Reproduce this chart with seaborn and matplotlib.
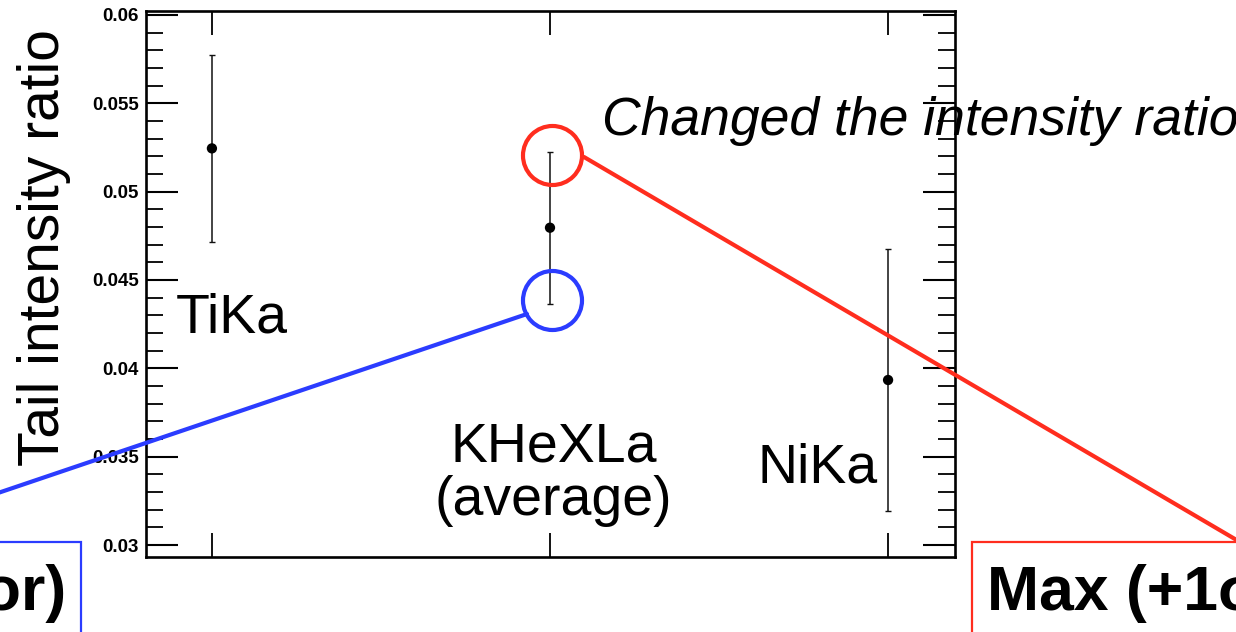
import matplotlib
matplotlib.use('AGG')
import matplotlib.pyplot as plt
from matplotlib.lines import Line2D
from matplotlib.patches import Rectangle
from matplotlib.ticker import MultipleLocator, FormatStrFormatter
import pandas as pd
import seaborn as sns

# data
lines = ['TiKa', 'KHeXLa', 'NiKa']
x_pos = [0, 1, 2]
ratio = [0.05245, 0.04796, 0.03934]
ratio_err = [0.00530, 0.00430, 0.00740]

# labels drawn under the points: (text, x, baseline y)
point_labels = [('TiKa', 0.06, 0.04200),
                ('KHeXLa', 1.01, 0.03472),
                ('(average)', 1.01, 0.03170),
                ('NiKa', 1.79, 0.03351)]

RED = '#ff2d1e'
BLUE = '#2b3cff'
W, H = 1236, 632

sns.set_theme(style='white')
plt.rcParams['font.family'] = ['Liberation Sans', 'DejaVu Sans']
plt.rcParams['text.color'] = 'black'
plt.rcParams['xtick.color'] = 'black'
plt.rcParams['ytick.color'] = 'black'
plt.rcParams['axes.labelcolor'] = 'black'

df = pd.DataFrame({'line': lines, 'x': x_pos, 'ratio': ratio, 'err': ratio_err})

fig = plt.figure(figsize=(W / 100, H / 100), dpi=100)
ax = fig.add_axes([146 / W, 1 - 557 / H, (955 - 146) / W, (557 - 11) / H])

ax.errorbar(df['x'], df['ratio'], yerr=df['err'], fmt='none', ecolor='#111111',
            elinewidth=1.1, capsize=2.5, capthick=1.0, zorder=2)
sns.scatterplot(data=df, x='x', y='ratio', ax=ax, color='black', s=55,
                edgecolor='none', zorder=3, legend=False)

ax.set_xlim(-0.195, 2.198)
ax.set_ylim(0.029321, 0.060226)
ax.set_xlabel('')
ax.set_ylabel('')

# ROOT-like frame and ticks
for sp in ax.spines.values():
    sp.set_linewidth(1.9)
    sp.set_color('black')
ax.set_xticks(x_pos)
ax.yaxis.set_major_locator(MultipleLocator(0.005))
ax.yaxis.set_minor_locator(MultipleLocator(0.001))
ax.yaxis.set_major_formatter(FormatStrFormatter('%g'))
ax.tick_params(axis='x', direction='in', length=17, width=1.3, top=True,
               bottom=True, labelbottom=False)
ax.tick_params(axis='y', which='major', direction='in', length=23, width=1.5,
               left=True, right=True, labelsize=13.5, pad=5)
ax.tick_params(axis='y', which='minor', direction='in', length=12, width=1.3,
               left=True, right=True)
for lab in ax.get_yticklabels():
    lab.set_fontweight('bold')

for txt, tx, ty in point_labels:
    ax.text(tx, ty, txt, ha='center', va='baseline', fontsize=40)

# highlight circles at the ends of the KHeXLa error bar
k = lines.index('KHeXLa')
ax.plot([x_pos[k] + 0.007], [ratio[k] + ratio_err[k] - 0.0002], marker='o', ms=42.5,
        mfc='none', mec=RED, mew=3.0, clip_on=False, zorder=4)
ax.plot([x_pos[k] + 0.007], [ratio[k] - ratio_err[k] + 0.0002], marker='o', ms=42.5,
        mfc='none', mec=BLUE, mew=3.0, clip_on=False, zorder=4)

# y title
fig.text(44 / W, 1 - 248 / H, 'Tail intensity ratio', rotation=90, ha='center',
         va='center', fontsize=41)

fig.text(602 / W, 1 - 135 / H, 'Changed the intensity ratio', ha='left',
         va='baseline', fontsize=38.5, style='italic')

# connector lines to the boxes
fig.add_artist(Line2D([584 / W, 1240 / W], [1 - 157 / H, 1 - 542 / H],
                      color=RED, lw=3.0, transform=fig.transFigure))
fig.add_artist(Line2D([527 / W, -5 / W], [1 - 314 / H, 1 - 494 / H],
                      color=BLUE, lw=3.0, transform=fig.transFigure))

# boxes
fig.add_artist(Rectangle((-20 / W, -0.1), (81 + 20) / W, 0.1 + 1 - 541.5 / H,
                         fill=False, ec=BLUE, lw=1.6, transform=fig.transFigure))
fig.add_artist(Rectangle((971.5 / W, -0.1), 0.5, 0.1 + 1 - 541.5 / H,
                         fill=False, ec=RED, lw=1.6, transform=fig.transFigure))
fig.text(66 / W, 1 - 610 / H, 'Min (\u22121\u03c3 error)', ha='right', va='baseline',
         fontsize=45, fontweight='bold')
fig.text(987 / W, 1 - 610 / H, 'Max (+1\u03c3 error)', ha='left', va='baseline',
         fontsize=45, fontweight='bold')

plt.savefig('out.png', dpi=100)
